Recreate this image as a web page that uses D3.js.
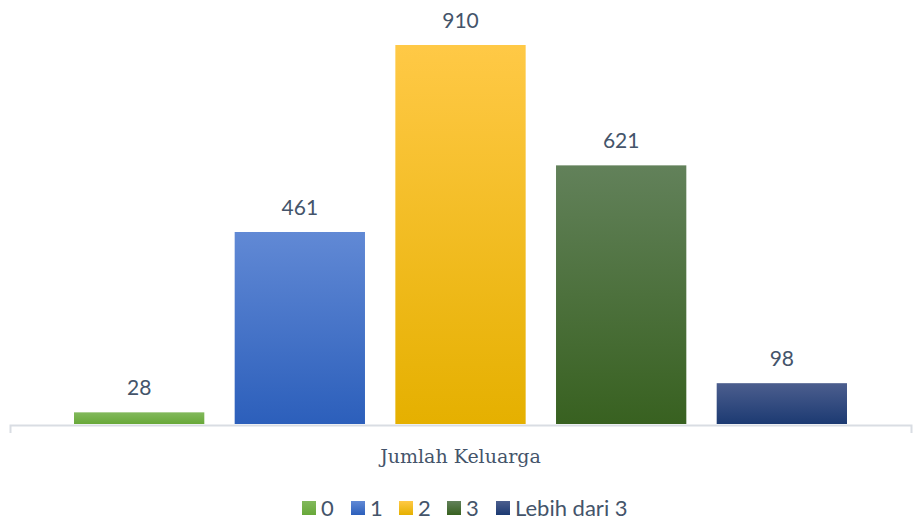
<!DOCTYPE html>
<html>
<head>
<meta charset="utf-8">
<script src="https://cdn.jsdelivr.net/npm/d3@7"></script>
<style>
  html, body { margin: 0; padding: 0; background: #ffffff; }
  svg { display: block; }
</style>
</head>
<body>
<svg id="chart" width="913" height="529"></svg>
<script>
// Data
const category = "Jumlah Keluarga";
const seriesNames = ["0", "1", "2", "3", "Lebih dari 3"];
const seriesValues = [28, 461, 910, 621, 98];
// gradient stops per series: [top, bottom]
const seriesTop = ["#82b95c", "#6189d5", "#ffc946", "#62815a", "#4c5e8e"];
const seriesBottom = ["#68a839", "#2c5fbb", "#e5b000", "#386120", "#1c3a72"];

const svg = d3.select("#chart");
const plot = { left: 10, right: 911, top: 20, bottom: 424 };
const textColor = "#44546a";
const sansFont = "Lato, 'Open Sans', sans-serif";

const defs = svg.append("defs");
seriesNames.forEach((s, i) => {
  const g = defs.append("linearGradient")
    .attr("id", "grad" + i)
    .attr("x1", 0).attr("y1", 0).attr("x2", 0).attr("y2", 1);
  g.append("stop").attr("offset", "0%").attr("stop-color", seriesTop[i]);
  g.append("stop").attr("offset", "100%").attr("stop-color", seriesBottom[i]);
});

// Scales: one category, five series side by side inside it
const x0 = d3.scaleBand()
  .domain([category])
  .range([plot.left, plot.right])
  .paddingInner(0)
  .paddingOuter(0.0828);

const x1 = d3.scaleBand()
  .domain(seriesNames)
  .range([0, x0.bandwidth()])
  .paddingInner(0.189)
  .paddingOuter(0);

const y = d3.scaleLinear()
  .domain([0, 910])
  .range([plot.bottom, 45]);

const data = seriesNames.map((s, i) => ({ name: s, value: seriesValues[i], idx: i }));

const g = svg.append("g").attr("transform", `translate(${x0(category)},0)`);

// Bars
g.selectAll("rect.bar")
  .data(data)
  .join("rect")
  .attr("class", "bar")
  .attr("x", d => x1(d.name))
  .attr("width", x1.bandwidth())
  .attr("y", d => y(d.value))
  .attr("height", d => plot.bottom - y(d.value))
  .attr("fill", d => `url(#grad${d.idx})`);

// Value labels
g.selectAll("text.val")
  .data(data)
  .join("text")
  .attr("class", "val")
  .attr("x", d => x1(d.name) + x1.bandwidth() / 2)
  .attr("y", d => y(d.value) - 17)
  .attr("text-anchor", "middle")
  .attr("font-family", sansFont)
  .attr("font-size", 21)
  .attr("fill", textColor)
  .text(d => d.value);

// Category axis
const axis = d3.axisBottom(x0).tickSizeInner(0).tickSizeOuter(8).tickFormat("");
const axG = svg.append("g")
  .attr("transform", `translate(0,${plot.bottom + 1})`)
  .call(axis);
axG.select(".domain").attr("stroke", "#d9dde3").attr("stroke-width", 2);
axG.selectAll(".tick").remove();

// Axis title
svg.append("text")
  .attr("x", x0(category) + x0.bandwidth() / 2)
  .attr("y", 463)
  .attr("text-anchor", "middle")
  .attr("font-family", "'DejaVu Serif', 'Liberation Serif', serif")
  .attr("font-size", 19)
  .attr("fill", textColor)
  .text(category);

// Legend
const legendX = [302, 351, 399, 447, 496];
const legend = svg.append("g");
data.forEach((d, i) => {
  legend.append("rect")
    .attr("x", legendX[i]).attr("y", 501)
    .attr("width", 14).attr("height", 14)
    .attr("fill", `url(#grad${i})`);
  legend.append("text")
    .attr("x", legendX[i] + 19)
    .attr("y", 516)
    .attr("font-family", sansFont)
    .attr("font-size", 22)
    .attr("fill", textColor)
    .text(d.name);
});
</script>
</body>
</html>
